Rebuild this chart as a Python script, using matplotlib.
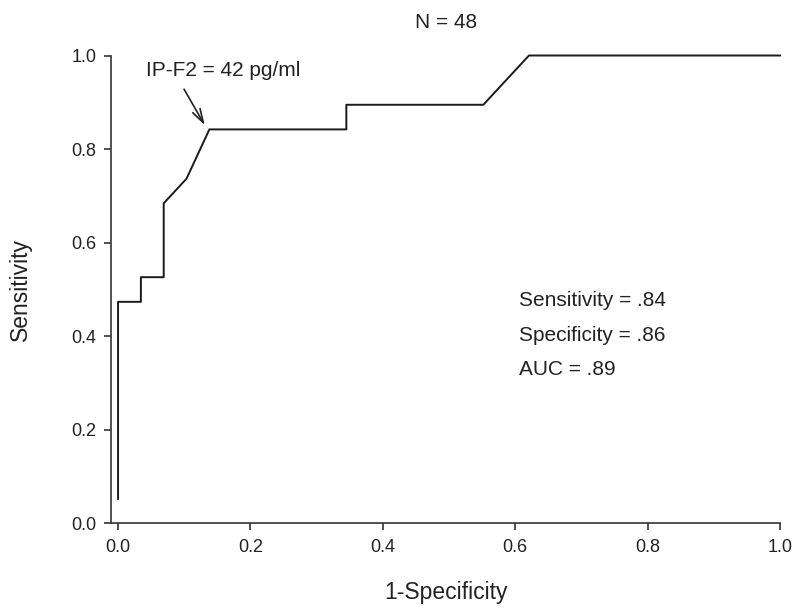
import matplotlib
matplotlib.use('Agg')
import matplotlib.pyplot as plt

plt.rcParams['font.family'] = ['Liberation Sans', 'DejaVu Sans']

# ROC curve points (19 positives, 29 negatives)
fpr = [0, 0, 1/29, 1/29, 2/29, 2/29, 3/29, 4/29, 10/29, 10/29, 16/29, 18/29, 1.0]
tpr = [1/19, 9/19, 9/19, 10/19, 10/19, 13/19, 14/19, 16/19, 16/19, 17/19, 17/19, 1.0, 1.0]
ticks = [0.0, 0.2, 0.4, 0.6, 0.8, 1.0]
stats = ['Sensitivity = .84', 'Specificity = .86', 'AUC = .89']
cut_label = 'IP-F2 = 42 pg/ml'

dark = '#222222'

fig = plt.figure(figsize=(8, 6.14), dpi=100)
ax = fig.add_axes([0.1393, 0.1474, 0.8358, 0.7622])
ax.plot(fpr, tpr, color='#1a1a1a', linewidth=1.4, clip_on=False)

ax.set_xlim(-0.01, 1.0)
ax.set_ylim(0, 1.0)
ax.set_xticks(ticks)
ax.set_yticks(ticks)
ax.set_xticklabels(['%.1f' % t for t in ticks])
ax.set_yticklabels(['%.1f' % t for t in ticks])
for s in ['top', 'right']:
    ax.spines[s].set_visible(False)
for s in ['left', 'bottom']:
    ax.spines[s].set_color('#333333')
    ax.spines[s].set_linewidth(1.2)
ax.tick_params(direction='out', length=5, width=1.2, color='#333333',
               labelsize=13, labelcolor=dark, pad=6)

ax.set_xlabel('1-Specificity', fontsize=16.5, color=dark)
ax.xaxis.label.set_va('center')
ax.xaxis.set_label_coords(0.5, -0.1485)
ax.set_ylabel('Sensitivity', fontsize=16.5, color=dark)
ax.yaxis.label.set_va('center')
ax.yaxis.set_label_coords(-0.136, 0.5)

fig.text(446 / 800, 1 - 22 / 614, 'N = 48', fontsize=15, color=dark,
         ha='center', va='center')

# cut-off annotation
ax.text(0.0417, 0.956, cut_label, fontsize=15, color=dark,
        ha='left', va='baseline')
ax.annotate('', xy=(0.131, 0.851), xytext=(0.0997, 0.928),
            arrowprops=dict(arrowstyle='->,head_length=1.0,head_width=0.3',
                            color=dark, lw=1.2, shrinkA=0, shrinkB=0))

for i, s in enumerate(stats):
    ax.text(0.606, 0.476 - i * 0.074, s, fontsize=15, color=dark,
            ha='left', va='center')

fig.savefig('out.png', dpi=100)
